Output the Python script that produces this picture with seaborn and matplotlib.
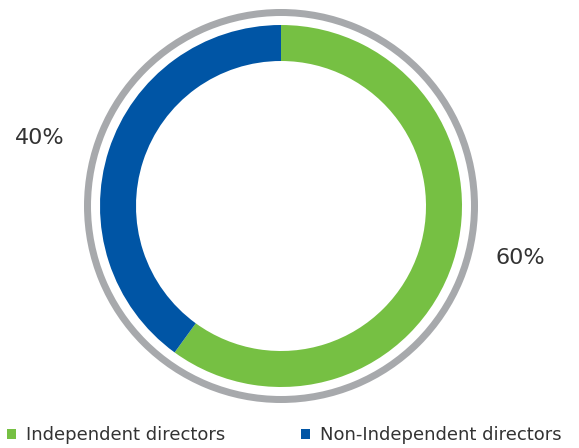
import matplotlib.pyplot as plt
import seaborn as sns
from matplotlib.patches import Patch

labels = ["Independent directors", "Non-Independent directors"]
shares = [60, 40]
colors = ["#76c043", "#0055a5"]
pct_labels = ["60%", "40%"]


def main():
    sns.set_theme(style="white")
    plt.rcParams['font.family'] = ['DejaVu Sans']

    fig = plt.figure(figsize=(5.79, 4.48), dpi=100)
    ax = fig.add_axes([0, 0, 1, 1])

    cx, cy = 281, 242

    # outer grey ring
    ax.pie([1], radius=197, center=(cx, cy), colors=["#a7a9ac"],
           wedgeprops=dict(width=7, linewidth=0), frame=True)

    ax.pie(shares, radius=181, center=(cx, cy), colors=colors,
           startangle=90, counterclock=False,
           wedgeprops=dict(width=36, linewidth=0), frame=True)
    ax.set_xlim(0, 579)
    ax.set_ylim(0, 448)
    ax.set_aspect('equal')
    ax.axis('off')

    ax.text(520, 190, pct_labels[0], fontsize=16, color="#333333",
            ha='center', va='center')
    ax.text(40, 310, pct_labels[1], fontsize=16, color="#333333",
            ha='center', va='center')

    handles = [Patch(facecolor=c, edgecolor='none') for c in colors]
    ax.legend(handles, labels, loc='lower left', bbox_to_anchor=(0.012, 0.008),
              ncol=2, frameon=False, fontsize=13, handlelength=0.5,
              handleheight=0.5, handletextpad=0.55, columnspacing=4.2,
              labelcolor="#333333", borderaxespad=0, borderpad=0)

    fig.savefig('out.png', dpi=100)
    plt.close()


if __name__ == '__main__':
    main()
